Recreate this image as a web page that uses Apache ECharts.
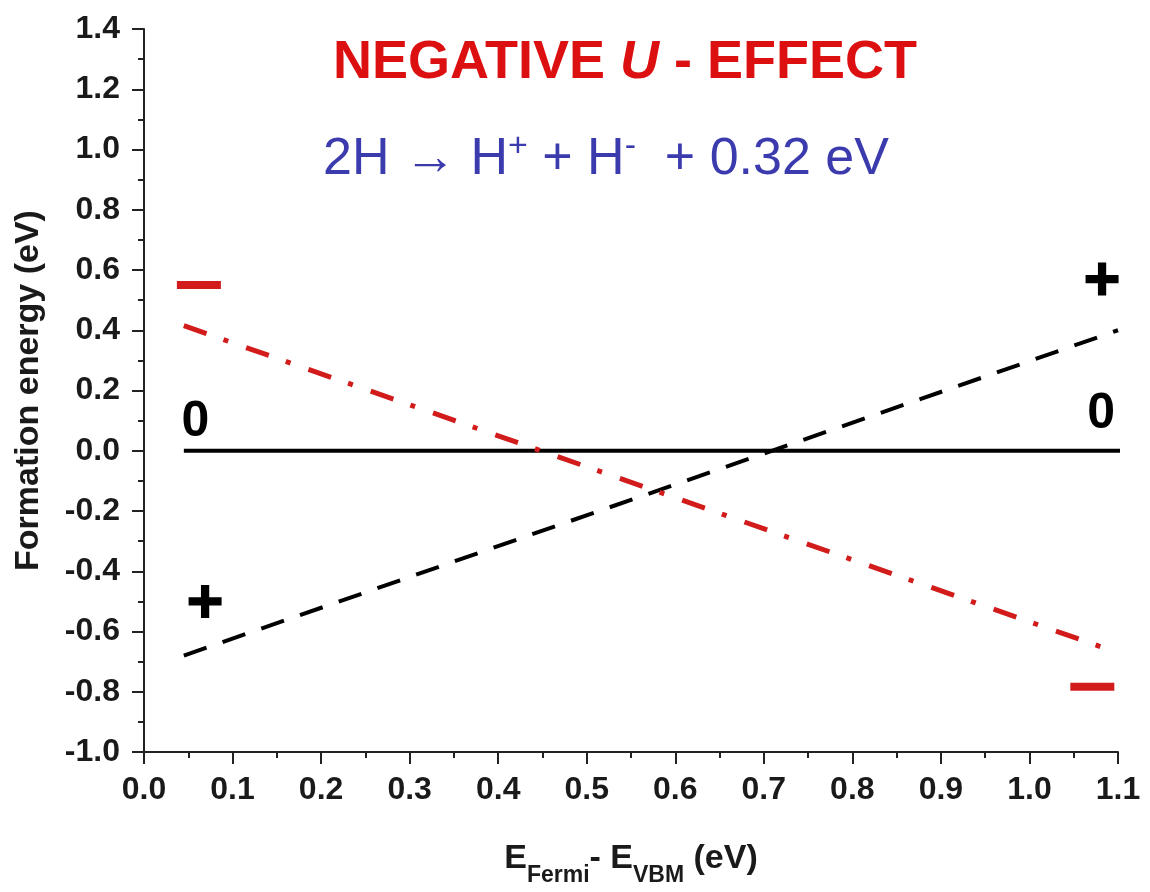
<html>

<head>
    <meta charset="utf-8" />
    <title>Negative U effect</title>
    <script src="https://cdn.jsdelivr.net/npm/echarts@6/dist/echarts.min.js"></script>
    <script type="text/javascript">
        // x positions are E_Fermi - E_VBM (eV), y is formation energy (eV)
        var neutralX = [0.045, 1.107];
        var neutralY = [0.0, 0.0];
        var positiveX = [0.045, 1.100];
        var positiveY = [-0.68, 0.40];
        var negativeX = [0.045, 1.080];
        var negativeY = [0.415, -0.65];

        // charge state labels: [x, y, label]
        var zeroLabels = [[0.058, 0.096, '0'], [1.081, 0.12, '0']];
        var plusLabels = [[0.069, -0.50], [1.082, 0.57]];
        var minusLabels = [[0.062, 0.55], [1.071, -0.783]];

        var xTicks = [0.0, 0.1, 0.2, 0.3, 0.4, 0.5, 0.6, 0.7, 0.8, 0.9, 1.0, 1.1];
        var yTicks = [-1.0, -0.8, -0.6, -0.4, -0.2, 0.0, 0.2, 0.4, 0.6, 0.8, 1.0, 1.2, 1.4];

        var font = '"Liberation Sans", Arial, sans-serif';
        var red = '#d21c1c';
        var axisColor = '#222';

        function pairs(xs, ys) {
            return xs.map(function (x, i) { return [x, ys[i]]; });
        }

        function renderChart() {
            var chartDom = document.getElementById('main');
            var chart = echarts.init(chartDom);

            var markPoints = [];
            zeroLabels.forEach(function (p) {
                markPoints.push({
                    coord: [p[0], p[1]],
                    symbol: 'circle', symbolSize: 1,
                    itemStyle: { color: 'rgba(0,0,0,0)' },
                    label: { show: true, position: 'inside', formatter: p[2], fontSize: 50, fontWeight: 'bold', fontFamily: font, color: '#000' }
                });
            });
            plusLabels.forEach(function (p) {
                markPoints.push({
                    coord: [p[0], p[1]],
                    symbol: 'path://M12,0h8v12h12v8h-12v12h-8v-12h-12v-8h12z',
                    symbolSize: [33, 33],
                    itemStyle: { color: '#000' },
                    label: { show: false }
                });
            });
            minusLabels.forEach(function (p) {
                markPoints.push({
                    coord: [p[0], p[1]],
                    symbol: 'rect',
                    symbolSize: [44, 8],
                    itemStyle: { color: red },
                    label: { show: false }
                });
            });

            var axisCommon = {
                type: 'value',
                splitLine: { show: false },
                axisLine: { show: true, onZero: false, lineStyle: { color: axisColor, width: 2 } },
                axisTick: { show: true, length: 12, lineStyle: { color: axisColor, width: 2 } },
                minorTick: { show: true, splitNumber: 2, length: 6, lineStyle: { color: axisColor, width: 2 } },
                axisLabel: {
                    fontSize: 32, fontWeight: 'bold', fontFamily: font, color: '#1a1a1a',
                    formatter: function (v) { return v.toFixed(1); }
                }
            };

            var option = {
                animation: false,
                backgroundColor: '#fff',
                grid: { left: 144, right: 32, top: 29, bottom: 140, outerBoundsMode: 'none', containLabel: false },
                xAxis: Object.assign({}, axisCommon, {
                    min: xTicks[0], max: xTicks[xTicks.length - 1], interval: 0.1,
                    name: '{m|E}{s|Fermi}{m|- E}{s|VBM}{m| (eV)}',
                    nameLocation: 'middle',
                    nameGap: 78,
                    nameTextStyle: {
                        rich: {
                            m: { fontSize: 34, fontWeight: 'bold', fontFamily: font, color: '#1a1a1a' },
                            s: { fontSize: 23, fontWeight: 'bold', fontFamily: font, color: '#1a1a1a', padding: [34, 0, 0, 0] }
                        }
                    },
                    axisLabel: Object.assign({}, axisCommon.axisLabel, { margin: 22 })
                }),
                yAxis: Object.assign({}, axisCommon, {
                    min: yTicks[0], max: yTicks[yTicks.length - 1], interval: 0.2,
                    name: 'Formation energy (eV)',
                    nameLocation: 'middle',
                    nameGap: 98,
                    nameTextStyle: { fontSize: 34, fontWeight: 'bold', fontFamily: font, color: '#1a1a1a' },
                    axisLabel: Object.assign({}, axisCommon.axisLabel, { margin: 24 })
                }),
                graphic: [
                    {
                        type: 'text', x: 625, y: 63,
                        style: {
                            text: '{a|NEGATIVE }{u|U}{a| - EFFECT}',
                            align: 'center', verticalAlign: 'middle',
                            rich: {
                                a: { fontSize: 54, fontWeight: 'bold', fontFamily: font, fill: '#dc1010' },
                                u: { fontSize: 54, fontWeight: 'bold', fontStyle: 'italic', fontFamily: font, fill: '#dc1010' }
                            }
                        }
                    },
                    {
                        type: 'text', x: 606, y: 160,
                        style: {
                            text: '{n|2H \u2192 H}{p|+}{n| + H}{p|-}{n|  + 0.32 eV}',
                            align: 'center', verticalAlign: 'middle',
                            rich: {
                                n: { fontSize: 52, fontFamily: font, fill: '#3b3bae' },
                                p: { fontSize: 34, fontFamily: font, fill: '#3b3bae', padding: [0, 0, 26, 0] }
                            }
                        }
                    }
                ],
                series: [
                    {
                        name: 'neutral',
                        type: 'line',
                        data: pairs(neutralX, neutralY),
                        showSymbol: false,
                        lineStyle: { color: '#000', width: 4, type: 'solid' },
                        markPoint: { data: markPoints, animation: false }
                    },
                    {
                        name: 'positive',
                        type: 'line',
                        data: pairs(positiveX, positiveY),
                        showSymbol: false,
                        lineStyle: { color: '#000', width: 4, type: [24, 17], cap: 'butt' }
                    },
                    {
                        name: 'negative',
                        type: 'line',
                        data: pairs(negativeX, negativeY),
                        showSymbol: false,
                        lineStyle: { color: red, width: 5, type: [24, 18, 5, 19], cap: 'butt' }
                    }
                ]
            };
            option && chart.setOption(option);
        }
    </script>
</head>
<body style="margin:0;">
    <div id="main" style="width: 1150px;height:892px;"></div>
    <script type="text/javascript">
        renderChart();
    </script>
</body>

</html>
